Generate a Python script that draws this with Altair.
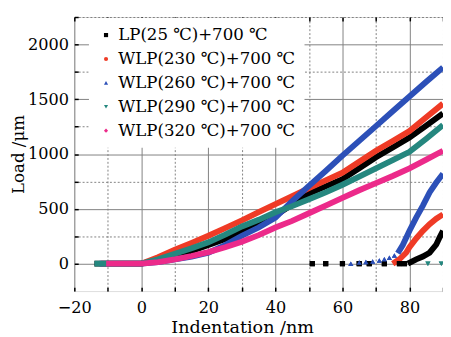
import altair as alt
import pandas as pd

series = ["LP(25 ℃)+700 ℃", "WLP(230 ℃)+700 ℃", "WLP(260 ℃)+700 ℃",
          "WLP(290 ℃)+700 ℃", "WLP(320 ℃)+700 ℃"]
colors = ["#000000", "#ef3b26", "#2c50b8", "#25877f", "#ec2a8a"]
shapes = ["square", "circle", "triangle-up", "triangle-down", "diamond"]

# loading curves (indentation nm, load)
lp25_x = [-14, -7, 0, 5, 10, 15, 20, 25, 30, 35, 40, 45, 50, 55, 60, 65, 70, 75, 80, 85, 90]
lp25_y = [0, 0, 0, 30, 70, 115, 170, 225, 290, 360, 440, 540, 640, 705, 770, 870, 970, 1060, 1150, 1260, 1370]
w230_x = [-12, -6, 0, 5, 10, 15, 20, 25, 30, 35, 40, 45, 50, 55, 60, 65, 70, 75, 80, 85, 90]
w230_y = [0, 0, 0, 60, 127, 190, 255, 325, 395, 470, 543, 615, 690, 760, 830, 930, 1030, 1120, 1210, 1335, 1460]
w260_x = [-12.5, -6, 0, 5, 10, 15, 20, 25, 30, 35, 40, 45, 50, 55, 60, 65, 70, 75, 80, 85, 90]
w260_y = [0, 0, 0, 15, 40, 65, 100, 170, 255, 330, 420, 570, 710, 845, 985, 1120, 1255, 1390, 1525, 1660, 1790]
w290_x = [-14, -7, 0, 5, 10, 15, 20, 25, 30, 35, 40, 45, 50, 55, 60, 65, 70, 75, 80, 85, 90]
w290_y = [0, 0, 0, 40, 90, 140, 195, 265, 340, 400, 469, 525, 587, 650, 720, 795, 870, 945, 1020, 1140, 1265]
w320_x = [-10.5, -5, 0, 5, 10, 15, 20, 25, 30, 35, 40, 45, 50, 55, 60, 65, 70, 75, 80, 85, 90]
w320_y = [0, 0, 0, 15, 40, 70, 105, 150, 200, 260, 330, 390, 460, 530, 600, 670, 735, 800, 870, 950, 1030]

# unloading curves
lp25_u_x = [79.5, 82, 84, 86, 88, 89, 90]
lp25_u_y = [0, 40, 65, 100, 175, 240, 300]
w230_u_x = [75, 77, 79, 80, 82, 84, 86, 88, 90]
w230_u_y = [0, 40, 100, 150, 230, 300, 360, 410, 450]
w260_u_x = [76.5, 78, 80, 82, 84, 86, 88, 90]
w260_u_y = [95, 170, 300, 420, 530, 650, 740, 820]

# sparse markers near zero load
lp25_s_x = [51, 55, 60, 65, 68, 72.5, 77, 78.5]
lp25_s_y = [0, 0, 0, 0, 0, 0, 0, 0]
w260_s_x = [62.5, 65, 67, 69, 71, 72.5, 74, 75.5]
w260_s_y = [0, 10, 15, 20, 30, 40, 55, 75]
w290_s_x = [85.5, 89.5]
w290_s_y = [0, 0]

x_ticks = [-20, -10, 0, 10, 20, 30, 40, 50, 60, 70, 80, 90]
y_ticks = [0, 250, 500, 750, 1000, 1250, 1500, 1750, 2000, 2250]

rows = []
curves = [
    (series[0], "load", lp25_x, lp25_y), (series[1], "load", w230_x, w230_y),
    (series[2], "load", w260_x, w260_y), (series[3], "load", w290_x, w290_y),
    (series[4], "load", w320_x, w320_y),
    (series[0], "unload", lp25_u_x, lp25_u_y), (series[1], "unload", w230_u_x, w230_u_y),
    (series[2], "unload", w260_u_x, w260_u_y),
]
for s, part, xs, ys in curves:
    for i, (a, b) in enumerate(zip(xs, ys)):
        rows.append({"series": s, "part": part, "key": s + part, "x": a, "y": b, "i": i})
lines_df = pd.DataFrame(rows)

prow = []
for s, xs, ys in [(series[0], lp25_s_x, lp25_s_y), (series[2], w260_s_x, w260_s_y),
                  (series[3], w290_s_x, w290_s_y)]:
    for a, b in zip(xs, ys):
        prow.append({"series": s, "x": a, "y": b})
pts_df = pd.DataFrame(prow)

FONT = "DejaVu Serif"
W, H = 378, 281

xscale = alt.Scale(domain=[-20, 90], nice=False, zero=False)
yscale = alt.Scale(domain=[-250, 2250], nice=False, zero=False)
cscale = alt.Scale(domain=series, range=colors)
sscale = alt.Scale(domain=series, range=shapes)

xaxis = alt.Axis(
    title="Indentation /nm", values=x_ticks, format="d",
    labelExpr="datum.value % 20 === 0 ? datum.label : ''",
    grid=True, gridColor="#808080", gridWidth=1,
    gridDash={"condition": {"test": "datum.value % 20 !== 0", "value": [2, 2]}, "value": []},
    ticks=False, domain=False, labelPadding=9, titlePadding=3,
    labelFont=FONT, labelFontSize=16.5, labelColor="black",
    titleFont=FONT, titleFontSize=18, titleFontWeight="normal", titleColor="black",
    titleX=172, labelFlush=False,
)
yaxis = alt.Axis(
    title="Load /μm", values=y_ticks, format="d",
    labelExpr="datum.value % 500 === 0 ? datum.label : ''",
    grid=True, gridColor="#808080", gridWidth=1,
    gridDash={"condition": {"test": "datum.value % 500 !== 0", "value": [2, 2]}, "value": []},
    ticks=False, domain=False, labelPadding=6, titlePadding=0,
    labelFont=FONT, labelFontSize=16.5, labelColor="black",
    titleFont=FONT, titleFontSize=17, titleFontWeight="normal", titleColor="black",
    labelFlush=False,
)

tick_style = dict(grid=False, labels=False, domain=False, ticks=True, tickSize=4,
                  tickColor="black", tickWidth=1.5, title=None)
x_in_bottom = alt.Axis(orient="top", offset=-H, values=x_ticks, **tick_style)
x_in_top = alt.Axis(orient="bottom", offset=-H, values=x_ticks, **tick_style)
y_in_left = alt.Axis(orient="right", offset=-W, values=y_ticks, **tick_style)

leg = alt.Legend(
    title=None, orient="none", legendX=15, legendY=1,
    fillColor="white", padding=9, labelFont=FONT, labelFontSize=17,
    labelColor="black", symbolSize=18, labelOffset=4, rowPadding=6.5,
    symbolStrokeWidth=0, labelLimit=400, symbolOpacity=1,
)

lines = alt.Chart(lines_df).mark_line(strokeWidth=6, clip=True).encode(
    x=alt.X("x:Q", scale=xscale, axis=xaxis),
    y=alt.Y("y:Q", scale=yscale, axis=yaxis),
    color=alt.Color("series:N", scale=cscale, legend=leg),
    detail="key:N",
    order="i:Q",
)

points = alt.Chart(pts_df).mark_point(filled=True, size=28, opacity=1, clip=True).encode(
    x=alt.X("x:Q", scale=xscale, axis=x_in_bottom),
    y=alt.Y("y:Q", scale=yscale, axis=y_in_left),
    color=alt.Color("series:N", scale=cscale, legend=leg),
    shape=alt.Shape("series:N", scale=sscale, legend=leg),
)

points_top = alt.Chart(pts_df).mark_point(filled=True, size=28, opacity=1, clip=True).encode(
    x=alt.X("x:Q", scale=xscale, axis=x_in_top),
    y=alt.Y("y:Q", scale=yscale, axis=None),
    color=alt.Color("series:N", scale=cscale, legend=leg),
    shape=alt.Shape("series:N", scale=sscale, legend=leg),
)

chart = alt.layer(lines, points, points_top).resolve_axis(
    x="independent", y="independent"
).properties(
    width=W, height=H,
    autosize=alt.AutoSizeParams(type="none"),
    padding={"left": 68, "top": 5, "right": 0, "bottom": 50},
).configure_view(stroke="black", strokeWidth=2).configure(background="white")

chart.save("out.html", embed_options={"renderer": "svg", "actions": False})
